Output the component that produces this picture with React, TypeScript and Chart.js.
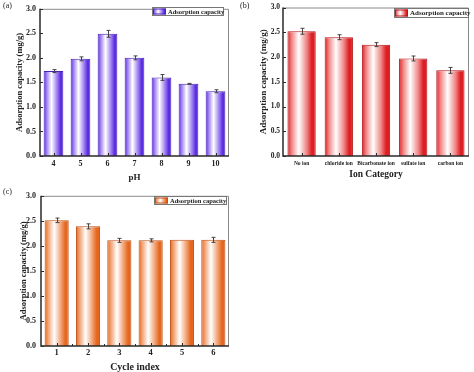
import React, { useEffect, useRef } from "react";
import { Chart, registerables } from "chart.js";
Chart.register(...registerables);

const SERIF = "'Liberation Serif', 'Times New Roman', serif";

// ---------- data ----------
const phLabels = ["4", "5", "6", "7", "8", "9", "10"];
const phValues = [1.73, 1.98, 2.49, 2.0, 1.6, 1.47, 1.32];
const phErrors = [0.03, 0.04, 0.07, 0.04, 0.06, 0.01, 0.03];

const ionLabels = ["No ion", "chloride ion", "Bicarbonate ion", "sulfate ion", "carbon ion"];
const ionValues = [2.52, 2.4, 2.25, 1.97, 1.73];
const ionErrors = [0.06, 0.05, 0.04, 0.05, 0.06];

const cycleLabels = ["1", "2", "3", "4", "5", "6"];
const cycleValues = [2.51, 2.39, 2.11, 2.11, 2.12, 2.12];
const cycleErrors = [0.045, 0.05, 0.04, 0.03, 0.0, 0.05];

const yTickValues = [0, 0.5, 1.0, 1.5, 2.0, 2.5, 3.0];
const seriesName = "Adsorption capacity";
const yTitle = "Adsorption capacity (mg/g)";

// ---------- panel settings ----------
const W = 237;
const H = 186;

type Panel = {
  tag: string;
  labels: string[];
  values: number[];
  errors: number[];
  xTitle: string;
  left: number;
  top: number;
  dark: string;
  light: string;
  border: string;
  barPct: number;
  area: { left: number; top: number; right: number; bottom: number };
  yTitleFont: number;
  yTitlePad: number;
  xTitleFont: number;
  xTitlePad: number;
  yTickFont: number;
  yTickPad: number;
  xTickFont: number;
  xTickPad: number;
  legend: { x: number; y: number; w: number; h: number; sw: number; font: number };
  minorX: boolean;
};

const panels: Panel[] = [
  {
    tag: "(a)",
    labels: phLabels,
    values: phValues,
    errors: phErrors,
    xTitle: "pH",
    left: 0,
    top: 0,
    dark: "#5a2ee0",
    light: "#9f80f2",
    border: "#4a22b8",
    barPct: 0.73,
    area: { left: 40, top: 4, right: 229, bottom: 156 },
    yTitleFont: 8.5,
    yTitlePad: 15,
    xTitleFont: 9,
    xTitlePad: 3,
    yTickFont: 8,
    yTickPad: 4,
    xTickFont: 8,
    xTickPad: 3,
    legend: { x: 152, y: 7, w: 72, h: 9, sw: 13, font: 6.5 },
    minorX: false,
  },
  {
    tag: "(b)",
    labels: ionLabels,
    values: ionValues,
    errors: ionErrors,
    xTitle: "Ion Category",
    left: 237,
    top: 0,
    dark: "#dd1e22",
    light: "#f08686",
    border: "#b31519",
    barPct: 0.76,
    area: { left: 46, top: 4, right: 232, bottom: 156 },
    yTitleFont: 9,
    yTitlePad: 21,
    xTitleFont: 9.5,
    xTitlePad: 6,
    yTickFont: 7.5,
    yTickPad: 3,
    xTickFont: 5.5,
    xTickPad: 4,
    legend: { x: 157, y: 8, w: 75, h: 10, sw: 13, font: 7 },
    minorX: false,
  },
  {
    tag: "(c)",
    labels: cycleLabels,
    values: cycleValues,
    errors: cycleErrors,
    xTitle: "Cycle index",
    left: 0,
    top: 186,
    dark: "#e5661e",
    light: "#f2a273",
    border: "#be5016",
    barPct: 0.77,
    area: { left: 41, top: 8, right: 229, bottom: 160 },
    yTitleFont: 8.5,
    yTitlePad: 19,
    xTitleFont: 10,
    xTitlePad: -1,
    yTickFont: 8,
    yTickPad: 5,
    xTickFont: 8.5,
    xTickPad: 2,
    legend: { x: 154, y: 10, w: 73, h: 9, sw: 13, font: 6.5 },
    minorX: true,
  },
];

function makeGradient(ctx: CanvasRenderingContext2D, x0: number, x1: number, p: Panel) {
  const g = ctx.createLinearGradient(x0, 0, x1, 0);
  g.addColorStop(0, p.dark);
  g.addColorStop(0.15, p.light);
  g.addColorStop(0.4, "#ffffff");
  g.addColorStop(0.68, p.light);
  g.addColorStop(0.86, p.dark);
  g.addColorStop(1, p.dark);
  return g;
}

function PanelChart({ p }: { p: Panel }) {
  const ref = useRef<HTMLCanvasElement>(null);
  useEffect(() => {
    const canvas = ref.current!;
    const decor = {
      id: "decor",
      afterDraw(chart: any) {
        const ctx: CanvasRenderingContext2D = chart.ctx;
        const { left, top, right, bottom } = chart.chartArea;
        const xs = chart.scales.x;
        const ys = chart.scales.y;
        const meta = chart.getDatasetMeta(0);
        ctx.save();
        // error bars
        ctx.strokeStyle = "#444";
        ctx.lineWidth = 1;
        meta.data.forEach((el: any, i: number) => {
          const e = p.errors[i];
          if (!e) return;
          const x = Math.round(el.x) + 0.5;
          const y1 = ys.getPixelForValue(p.values[i] + e);
          const y2 = ys.getPixelForValue(p.values[i] - e);
          ctx.beginPath();
          ctx.moveTo(x, y1);
          ctx.lineTo(x, y2);
          ctx.moveTo(x - 2, y1);
          ctx.lineTo(x + 2, y1);
          ctx.moveTo(x - 2, y2);
          ctx.lineTo(x + 2, y2);
          ctx.stroke();
        });
        // frame
        ctx.strokeStyle = "#8a8a8a";
        ctx.lineWidth = 1;
        ctx.beginPath();
        ctx.moveTo(left, top + 0.5);
        ctx.lineTo(right - 0.5, top + 0.5);
        ctx.lineTo(right - 0.5, bottom);
        ctx.stroke();
        ctx.strokeStyle = "#2a2a2a";
        ctx.lineWidth = 1.5;
        ctx.beginPath();
        ctx.moveTo(left, top);
        ctx.lineTo(left, bottom);
        ctx.lineTo(right, bottom);
        ctx.stroke();
        // ticks (inward)
        ctx.lineWidth = 1;
        ctx.beginPath();
        yTickValues.forEach((v) => {
          const y = Math.round(ys.getPixelForValue(v)) + 0.5;
          ctx.moveTo(left, y);
          ctx.lineTo(left + 3, y);
        });
        p.labels.forEach((_, i) => {
          const x = Math.round(xs.getPixelForValue(i)) + 0.5;
          ctx.moveTo(x, bottom);
          ctx.lineTo(x, bottom - 3);
          if (p.minorX && i < p.labels.length - 1) {
            const xm = Math.round((xs.getPixelForValue(i) + xs.getPixelForValue(i + 1)) / 2) + 0.5;
            ctx.moveTo(xm, bottom);
            ctx.lineTo(xm, bottom - 2);
          }
        });
        ctx.stroke();
        // legend
        const L = p.legend;
        ctx.fillStyle = "#fff";
        ctx.fillRect(L.x, L.y, L.w, L.h);
        ctx.strokeStyle = "#777";
        ctx.lineWidth = 1;
        ctx.strokeRect(L.x + 0.5, L.y + 0.5, L.w - 1, L.h - 1);
        ctx.fillStyle = makeGradient(ctx, L.x + 1, L.x + 1 + L.sw, p);
        ctx.fillRect(L.x + 1, L.y + 1.5, L.sw, L.h - 3);
        ctx.strokeStyle = p.border;
        ctx.strokeRect(L.x + 1.5, L.y + 2, L.sw - 1, L.h - 4);
        ctx.fillStyle = "#222";
        ctx.font = `bold ${L.font}px ${SERIF}`;
        ctx.textAlign = "left";
        ctx.textBaseline = "middle";
        ctx.fillText(seriesName, L.x + L.sw + 3, L.y + L.h / 2 + 0.5);
        // panel tag
        ctx.font = `8px ${SERIF}`;
        ctx.fillStyle = "#222";
        ctx.textBaseline = "middle";
        ctx.fillText(p.tag, 3, 6);
        ctx.restore();
      },
    };

    const chart = new Chart(canvas, {
      type: "bar",
      data: {
        labels: p.labels,
        datasets: [
          {
            label: seriesName,
            data: p.values,
            backgroundColor: (c: any) => {
              const xs = c.chart.scales?.x;
              if (!xs || c.dataIndex === undefined || !xs.width) return p.dark;
              const cx = xs.getPixelForValue(c.dataIndex);
              const w = (xs.width / p.labels.length) * p.barPct;
              return makeGradient(c.chart.ctx, cx - w / 2, cx + w / 2, p);
            },
            borderColor: p.border,
            borderWidth: 1,
            barPercentage: p.barPct,
            categoryPercentage: 1,
          },
        ],
      },
      options: {
        responsive: false,
        animation: false,
        events: [],
        layout: {
          padding: { left: 0, top: p.area.top, right: W - p.area.right, bottom: 0 },
        },
        plugins: { legend: { display: false }, tooltip: { enabled: false }, title: { display: false } },
        scales: {
          x: {
            grid: { display: false, drawTicks: false },
            border: { display: false },
            ticks: {
              autoSkip: false,
              maxRotation: 0,
              minRotation: 0,
              padding: p.xTickPad,
              color: "#222",
              font: { family: SERIF, size: p.xTickFont, weight: "bold" },
            },
            title: {
              display: true,
              text: p.xTitle,
              color: "#222",
              padding: { top: 0, bottom: p.xTitlePad },
              font: { family: SERIF, size: p.xTitleFont, weight: "bold" },
            },
            afterFit: (s: any) => {
              s.height = H - p.area.bottom;
            },
          },
          y: {
            min: 0,
            max: 3,
            afterBuildTicks: (s: any) => {
              s.ticks = yTickValues.map((v) => ({ value: v }));
            },
            grid: { display: false, drawTicks: false },
            border: { display: false },
            ticks: {
              padding: p.yTickPad,
              color: "#222",
              font: { family: SERIF, size: p.yTickFont, weight: "bold" },
              callback: (v: any) => Number(v).toFixed(1),
            },
            title: {
              display: true,
              text: yTitle,
              color: "#222",
              padding: { top: p.yTitlePad, bottom: 0 },
              font: { family: SERIF, size: p.yTitleFont, weight: "bold" },
            },
            afterFit: (s: any) => {
              s.width = p.area.left;
            },
          },
        },
      },
      plugins: [decor],
    } as any);
    return () => chart.destroy();
  }, [p]);
  return (
    <canvas
      ref={ref}
      width={W}
      height={H}
      style={{ position: "absolute", left: p.left, top: p.top, width: W, height: H }}
    />
  );
}

export default function App() {
  return (
    <div
      style={{
        position: "fixed",
        left: 0,
        top: 0,
        width: 474,
        height: 372,
        background: "#fff",
        overflow: "hidden",
      }}
    >
      {panels.map((p) => (
        <PanelChart key={p.tag} p={p} />
      ))}
    </div>
  );
}
